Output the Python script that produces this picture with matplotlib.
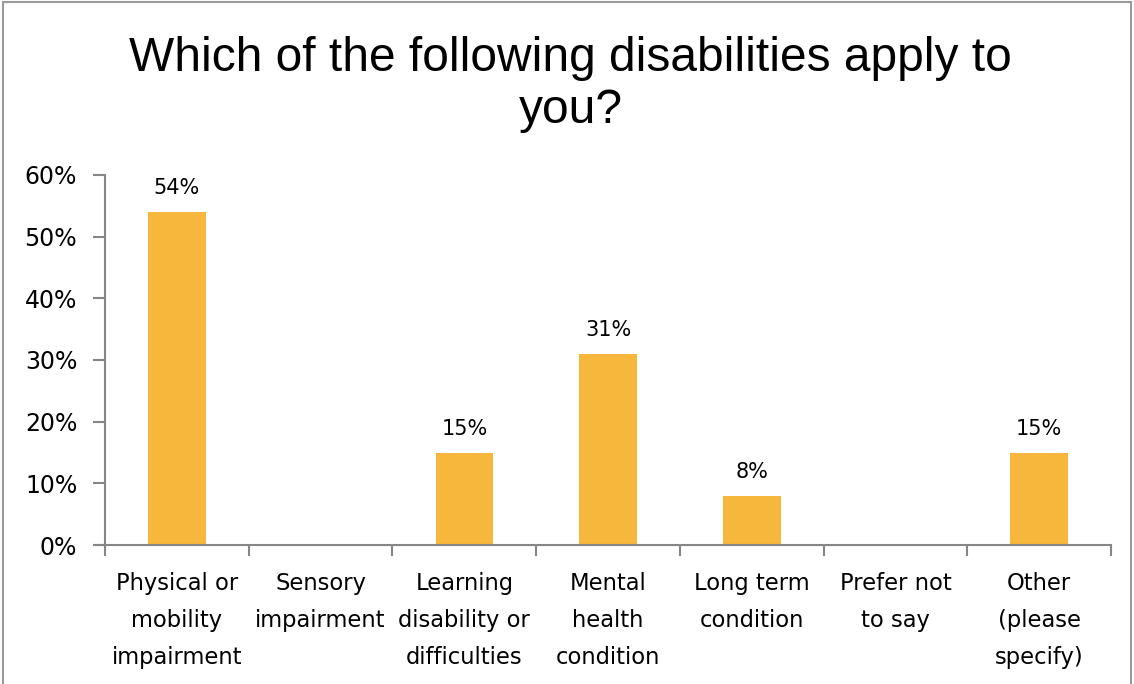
import matplotlib.pyplot as plt
from matplotlib.patches import Rectangle

# survey responses, percent of respondents
categories = [
    "Physical or\nmobility\nimpairment",
    "Sensory\nimpairment",
    "Learning\ndisability or\ndifficulties",
    "Mental\nhealth\ncondition",
    "Long term\ncondition",
    "Prefer not\nto say",
    "Other\n(please\nspecify)",
]
percent = [54, 0, 15, 31, 8, 0, 15]
value_labels = ["54%", "", "15%", "31%", "8%", "", "15%"]
y_ticks = [0, 10, 20, 30, 40, 50, 60]

bar_color = "#F6B73C"
axis_gray = "#868686"

fig = plt.figure(figsize=(11.34, 6.84), dpi=100)
ax = fig.add_axes([0.0926, 0.2032, 0.8872, 0.541])

x = list(range(len(categories)))
ax.bar(x, percent, width=0.4, color=bar_color, zorder=2)

for xi, v, lab in zip(x, percent, value_labels):
    if lab:
        ax.text(xi, v + 2.2, lab, ha="center", va="bottom", fontsize=15,
                family="DejaVu Sans", color="black")

ax.set_xlim(-0.5, len(categories) - 0.5)
ax.set_ylim(0, 60)
ax.set_yticks(y_ticks)
ax.set_yticklabels([f"{t}%" for t in y_ticks], fontsize=17, family="DejaVu Sans")

# category boundaries carry the x ticks, labels sit under each bar
ax.set_xticks([i - 0.5 for i in range(len(categories) + 1)])
ax.set_xticklabels([])
ax.tick_params(axis="x", length=8, width=1.5, color=axis_gray, direction="out")
ax.tick_params(axis="y", length=9, width=1.5, color=axis_gray, direction="out", pad=11)
for xi, name in zip(x, categories):
    ax.text(xi, -4.3, name, ha="center", va="top", fontsize=16.3, family="DejaVu Sans",
            linespacing=1.78, transform=ax.transData)

for side in ["top", "right"]:
    ax.spines[side].set_visible(False)
for side in ["left", "bottom"]:
    ax.spines[side].set_color(axis_gray)
    ax.spines[side].set_linewidth(1.5)
ax.spines["bottom"].set_bounds(-0.56, len(categories) - 0.5)

fig.text(0.503, 0.876, "Which of the following disabilities apply to\nyou?",
         ha="center", va="center", fontsize=34.5, family="Liberation Sans",
         linespacing=1.2)

# light frame around the chart area
fig.patches.append(Rectangle((0.003, -0.01), 0.994, 1.007, transform=fig.transFigure,
                             fill=False, edgecolor="#9a9a9a", linewidth=1.5))

fig.savefig("out.png", dpi=100)
